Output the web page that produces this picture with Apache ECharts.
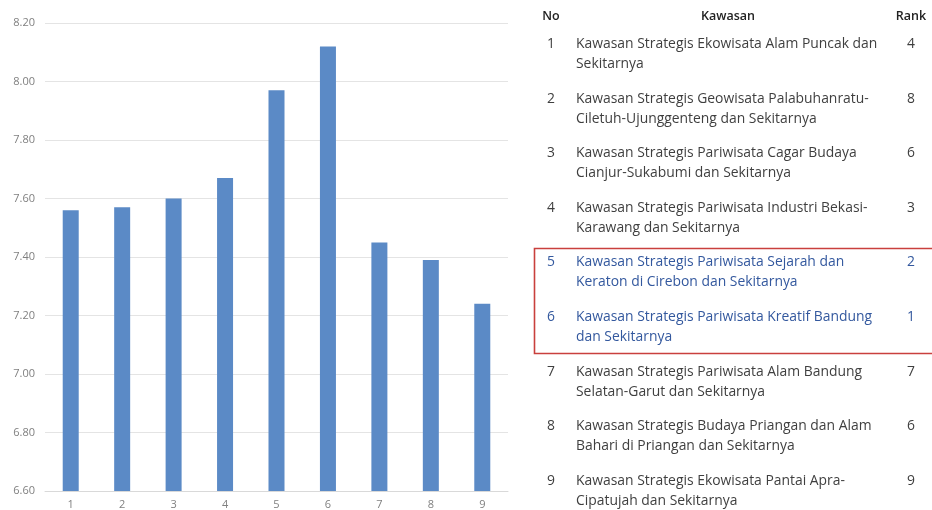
<!DOCTYPE html>
<html>
<head>
<meta charset="utf-8">
<script src="https://cdn.jsdelivr.net/npm/echarts@6/dist/echarts.min.js"></script>
<style>
  html, body { margin: 0; padding: 0; background: #ffffff; }
  #chart { width: 932px; height: 510px; }
</style>
</head>
<body>
<div id="chart"></div>
<script>
// Bar chart: score per kawasan (numbered 1–9)
const categories = ['1', '2', '3', '4', '5', '6', '7', '8', '9'];
const scores = [7.56, 7.57, 7.60, 7.67, 7.97, 8.12, 7.45, 7.39, 7.24];
const yTicks = { min: 6.6, max: 8.2, step: 0.2 };

// Table beside the chart
const tableHeader = ['No', 'Kawasan', 'Rank'];
const tableNo = ['1', '2', '3', '4', '5', '6', '7', '8', '9'];
const tableKawasan = [
  'Kawasan Strategis Ekowisata Alam Puncak dan\nSekitarnya',
  'Kawasan Strategis Geowisata Palabuhanratu-\nCiletuh-Ujunggenteng dan Sekitarnya',
  'Kawasan Strategis Pariwisata Cagar Budaya\nCianjur-Sukabumi dan Sekitarnya',
  'Kawasan Strategis Pariwisata Industri Bekasi-\nKarawang dan Sekitarnya',
  'Kawasan Strategis Pariwisata Sejarah dan\nKeraton di Cirebon dan Sekitarnya',
  'Kawasan Strategis Pariwisata Kreatif Bandung\ndan Sekitarnya',
  'Kawasan Strategis Pariwisata Alam Bandung\nSelatan-Garut dan Sekitarnya',
  'Kawasan Strategis Budaya Priangan dan Alam\nBahari di Priangan dan Sekitarnya',
  'Kawasan Strategis Ekowisata Pantai Apra-\nCipatujah dan Sekitarnya'
];
const tableRank = ['4', '8', '6', '3', '2', '1', '7', '6', '9'];
const highlightedRows = [4, 5];

const chart = echarts.init(document.getElementById('chart'), null, { renderer: 'canvas' });

const FONT = '"Open Sans", Lato, sans-serif';
const TEXT = '#3f3f3f';
const BLUE_TEXT = '#33589e';
const BODY = '13.9px ' + FONT;

// table layout
const colNo = 551, colText = 576, colRank = 911;
const firstRowY = 44, rowStep = 54.6, lineH = 20;

const graphics = [];
graphics.push(
  { type: 'text', x: 551, y: 16, style: { text: tableHeader[0], font: '600 12.5px ' + FONT, fill: '#222', align: 'center', verticalAlign: 'middle' } },
  { type: 'text', x: 728, y: 16, style: { text: tableHeader[1], font: '600 12.5px ' + FONT, fill: '#222', align: 'center', verticalAlign: 'middle' } },
  { type: 'text', x: colRank, y: 16, style: { text: tableHeader[2], font: '600 12.5px ' + FONT, fill: '#222', align: 'center', verticalAlign: 'middle' } }
);
tableNo.forEach((no, i) => {
  const y = firstRowY + i * rowStep;
  const fill = highlightedRows.includes(i) ? BLUE_TEXT : TEXT;
  graphics.push(
    { type: 'text', x: colNo, y: y, style: { text: no, font: BODY, fill, align: 'center', verticalAlign: 'middle' } },
    { type: 'text', x: colText, y: y - lineH / 2, style: { text: tableKawasan[i], font: BODY, fill, lineHeight: lineH, verticalAlign: 'top' } },
    { type: 'text', x: colRank, y: y, style: { text: tableRank[i], font: BODY, fill, align: 'center', verticalAlign: 'middle' } }
  );
});
// red frame around the highlighted rows
graphics.push({
  type: 'rect',
  shape: { x: 534.5, y: 248.5, width: 410, height: 105 },
  style: { fill: 'none', stroke: '#c9403d', lineWidth: 1.6 }
});

chart.setOption({
  backgroundColor: '#ffffff',
  animation: false,
  grid: { left: 45, right: 424, top: 23, bottom: 18, containLabel: false },
  xAxis: {
    type: 'category',
    data: categories,
    axisLine: { show: true, lineStyle: { color: '#d9d9d9', width: 1 } },
    axisTick: { show: false },
    axisLabel: { color: '#808080', fontFamily: FONT, fontSize: 11, margin: 8 }
  },
  yAxis: {
    type: 'value',
    min: yTicks.min,
    max: yTicks.max,
    interval: yTicks.step,
    axisLine: { show: false },
    axisTick: { show: false },
    splitLine: { lineStyle: { color: '#e4e4e4', width: 1 } },
    axisLabel: { color: '#808080', fontFamily: FONT, fontSize: 11, margin: 10, formatter: v => v.toFixed(2) }
  },
  series: [{
    type: 'bar',
    data: scores,
    barWidth: 16,
    itemStyle: { color: '#5b8ac6' }
  }],
  graphic: graphics
});
</script>
</body>
</html>
